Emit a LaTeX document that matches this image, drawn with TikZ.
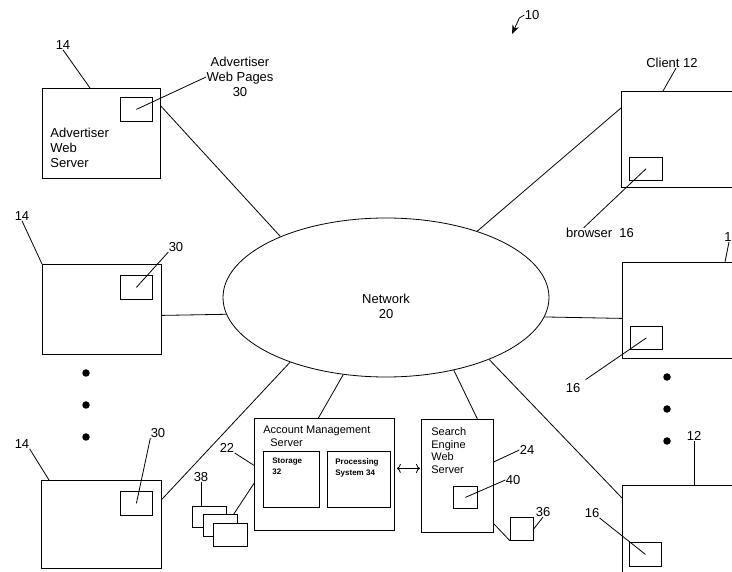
\documentclass[tikz,border=0pt]{standalone}
\usepackage{fontspec}
\setmainfont{Liberation Sans}
\usetikzlibrary{shapes.geometric,positioning,calc,arrows.meta}

\begin{document}
\begin{tikzpicture}[x=1pt, y=-1pt, line width=0.8pt, every node/.style={font=\fontsize{13}{15}\selectfont}]
    \tikzset{
      srvbox/.style={
        draw,
        fill=white,
        anchor=north west,
        inner sep=0pt
      },
      pagebox/.style={srvbox, minimum width=32pt, minimum height=24pt},
      txt/.style={inner sep=0pt, align=left},
      smalltxt/.style={txt, font=\fontsize{11}{12.7}\selectfont},
      tinytxt/.style={txt, font=\bfseries\fontsize{8}{11}\selectfont},
      bigdot/.style={circle, fill, inner sep=0pt, minimum size=7.5pt}
    }
    \useasboundingbox (0,0) rectangle (732,572);

    % network
    \node[draw, ellipse, minimum width=326pt, minimum height=159pt] (net) at (386,297.5) {};
    \node[txt, align=center] (netlbl) at (386,306) {Network\\20};

    % advertiser web servers
    \node[srvbox, minimum width=118pt, minimum height=90pt] (adv1) at (42,88) {};
    \node[pagebox] (pg1) at (120,97) {};
    \node[txt, anchor=west] (adv1txt) at (50,148) {Advertiser\\Web\\Server};
    \node[txt] (n14a) at (63,45) {14};
    \node[txt, align=center] (n30a) at (240,77) {Advertiser\\Web Pages\\30};
    \draw (n14a.south) -- ([xshift=48pt]adv1.north west);
    \draw (n30a.west) -- (pg1.center);

    \node[srvbox, minimum width=119pt, minimum height=90pt] (adv2) at (42,264) {};
    \node[pagebox] (pg2) at (120,275) {};
    \node[txt] (n14b) at (22,216) {14};
    \node[txt] (n30b) at (176,247) {30};
    \draw (n14b.south) -- (adv2.north west);
    \draw (n30b.south west) -- (pg2.center);

    \foreach \y [count=\i] in {373,405,437}
      \node[bigdot] (ldot\i) at (86,\y) {};

    \node[srvbox, minimum width=120pt, minimum height=88pt] (adv3) at (41,480) {};
    \node[pagebox] (pg3) at (120,491) {};
    \node[txt] (n14c) at (22,444) {14};
    \node[txt] (n30c) at (158,433) {30};
    \draw (n14c.south east) -- ([xshift=8pt]adv3.north west);
    \draw (n30c.south west) -- (pg3.center);

    % account management server
    \node[srvbox, minimum width=140pt, minimum height=112pt] (acct) at (254,418) {};
    \node[smalltxt, anchor=north west] (accttxt) at ([shift={(9,8)}]acct.north west) {Account Management\\\hspace*{7pt}Server};
    \node[srvbox, minimum width=56pt, minimum height=56pt] (store) at (263,451) {};
    \node[tinytxt, anchor=north west] (storetxt) at ([shift={(9,7)}]store.north west) {Storage\\32};
    \node[srvbox, minimum width=63pt, minimum height=56pt] (proc) at (327,451) {};
    \node[tinytxt, anchor=north west] (proctxt) at ([shift={(8,7)}]proc.north west) {Processing\\System 34};
    \node[txt] (n22) at (227,448) {22};
    \draw (n22.south east) -- ([yshift=9pt]acct.west);

    % advertiser account records
    \node[srvbox, minimum width=34pt, minimum height=21pt] (db1) at (192,506) {};
    \node[srvbox, minimum width=34pt, minimum height=22pt] (db2) at (203,514) {};
    \node[srvbox, minimum width=34pt, minimum height=23pt] (db3) at (213,523) {};
    \node[txt] (n38) at (201,477) {38};
    \draw (n38.south) -- (n38.south |- db1.north);
    \draw ([yshift=-9pt]acct.west) -- ([xshift=-4pt]db2.north east);

    % search engine web server
    \node[srvbox, minimum width=72pt, minimum height=113pt] (search) at (421,419) {};
    \node[smalltxt, anchor=north west] (searchtxt) at ([shift={(10,8)}]search.north west) {Search\\Engine\\Web\\Server};
    \node[srvbox, minimum width=24pt, minimum height=22pt] (sbox) at (453,486) {};
    \node[srvbox, minimum width=23pt, minimum height=23pt] (box36) at (510,517) {};
    \node[txt] (n24) at (527,450) {24};
    \node[txt] (n40) at (513,480) {40};
    \node[txt] (n36) at (543,512) {36};
    \draw (n24.west) -- ([yshift=14pt]search.east);
    \draw (n40.west) -- (sbox.center);
    \draw (n36.south) -- (box36.east);
    \draw ([yshift=9pt]search.south east) -- (box36.south west);
    \draw[{To[length=4pt,width=9pt]}-{To[length=4pt,width=9pt]}, shorten <=2pt, shorten >=1pt] ([yshift=6pt]acct.east) -- ([yshift=6pt]acct.east -| search.west);

    % clients
    \node[srvbox, minimum width=130pt, minimum height=96pt] (cli1) at (621,91) {};
    \node[pagebox, minimum width=33pt, minimum height=23pt] (brw1) at (629,157) {};
    \node[txt] (ncli) at (672,63) {Client 12};
    \node[txt] (nbrw) at (600,233) {browser\ \ 16};
    \draw ([xshift=4pt]ncli.south) -- ([xshift=42pt]cli1.north west);
    \draw ([xshift=18pt]nbrw.north west) -- (brw1.center);

    \node[srvbox, minimum width=130pt, minimum height=96pt] (cli2) at (622,262) {};
    \node[pagebox, minimum height=23pt] (brw2) at (630,326) {};
    \node[txt, anchor=west] (n12b) at (724,237) {12};
    \node[txt] (n16b) at (573,388) {16};
    \draw ([xshift=5pt]n12b.south west) -- ([xshift=103pt]cli2.north west);
    \draw[shorten <=6pt] (n16b.north east) -- (brw2.center);

    \foreach \y [count=\i] in {377,409,441}
      \node[bigdot] (rdot\i) at (667,\y) {};

    \node[srvbox, minimum width=130pt, minimum height=120pt] (cli3) at (622,485) {};
    \node[pagebox] (brw3) at (629,542) {};
    \node[txt] (n12c) at (694,436) {12};
    \node[txt] (n16c) at (592,513) {16};
    \draw (n12c.south) -- (n12c.south |- cli3.north);
    \draw (n16c.south east) -- (brw3.center);

    % links to the network
    \draw ([yshift=-18pt]adv1.north east) -- (net.150);
    \draw ([yshift=-6pt]adv2.east) -- (net.186);
    \draw ([yshift=25pt]adv3.east) -- (net.214);
    \draw ([xshift=-6pt]acct.north) -- (net.241);
    \draw ([xshift=20pt]search.north) -- (net.313);
    \draw ([yshift=-13pt]cli3.north west) -- (net.329);
    \draw ([yshift=-8pt]cli2.west) -- (net.353);
    \draw ([yshift=-17pt]cli1.north west) -- (net.36);

    % figure number
    \node[txt] (n10) at (532,15) {10};
    \coordinate (tip10) at (512,34);
    \draw[-{Stealth[length=9pt,width=7pt]}] (n10.west) -- ([shift={(-5,3)}]n10.west) -- (tip10);
  \end{tikzpicture}
\end{document}
